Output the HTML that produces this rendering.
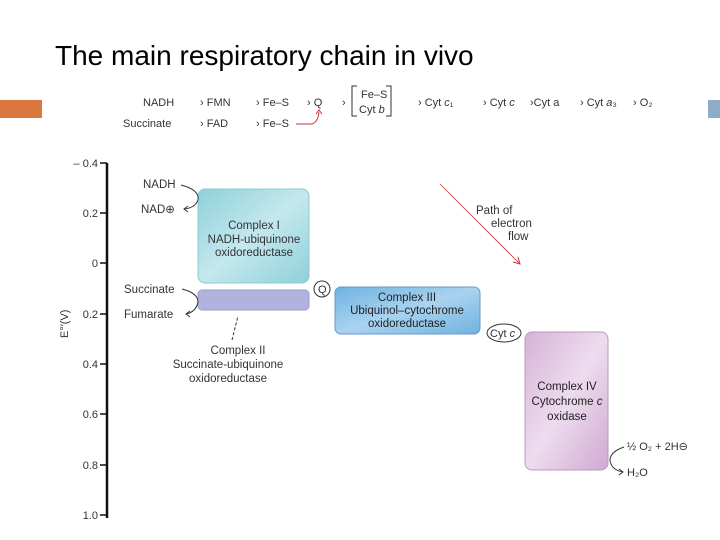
<!DOCTYPE html>
<html><head><meta charset="utf-8"><style>
body{margin:0;width:720px;height:540px;background:#fff;overflow:hidden;position:relative;font-family:"Liberation Sans",sans-serif;}
</style></head><body>
<div style="position:absolute;left:55px;top:40px;font-size:28px;color:#000;">The main respiratory chain in vivo</div>
<div style="position:absolute;left:0;top:100px;width:42px;height:18px;background:#d9773f;"></div>
<div style="position:absolute;left:708px;top:100px;width:12px;height:18px;background:#8eacc8;"></div>
<svg width="720" height="540" style="position:absolute;left:0;top:0" font-family="Liberation Sans, sans-serif" font-size="11" fill="#333">
<defs>
<linearGradient id="g1" x1="0" y1="0" x2="1" y2="1"><stop offset="0" stop-color="#8fd0da"/><stop offset="0.5" stop-color="#c4e8ee"/><stop offset="1" stop-color="#8fd0da"/></linearGradient>
<linearGradient id="g3" x1="0" y1="0" x2="1" y2="1"><stop offset="0" stop-color="#6fb2e0"/><stop offset="0.5" stop-color="#a9d3f0"/><stop offset="1" stop-color="#6fb2e0"/></linearGradient>
<linearGradient id="g4" x1="0" y1="0" x2="1" y2="1"><stop offset="0" stop-color="#d6b2d8"/><stop offset="0.5" stop-color="#eedcee"/><stop offset="1" stop-color="#d0a8d2"/></linearGradient>
</defs>
<g font-size="11">
<text x="143" y="106">NADH</text><text x="200" y="106">› FMN</text><text x="256" y="106">› Fe–S</text><text x="307" y="106">› Q</text><text x="342" y="106">›</text>
<text x="361" y="98">Fe–S</text><text x="359" y="113">Cyt <tspan font-style="italic">b</tspan></text>
<text x="418" y="106">› Cyt <tspan font-style="italic">c</tspan>₁</text><text x="483" y="106">› Cyt <tspan font-style="italic">c</tspan></text><text x="530" y="106">›Cyt a</text><text x="580" y="106">› Cyt <tspan font-style="italic">a</tspan>₃</text><text x="633" y="106">› O₂</text>
<text x="123" y="127">Succinate</text><text x="200" y="127">› FAD</text><text x="256" y="127">› Fe–S</text>
</g>
<path d="M296 124 L312 124 Q318 122 319 112" fill="none" stroke="#c33" stroke-width="1"/>
<path d="M316 114 L319 110 L322 114" fill="none" stroke="#c33"/>
<path d="M357 86 H352 V116 H357 M386 86 H391 V116 H386" fill="none" stroke="#333"/>
<line x1="107" y1="163" x2="107" y2="518" stroke="#111" stroke-width="2.5"/>
<g stroke="#111" stroke-width="1.5">
<line x1="100" y1="163" x2="107" y2="163"/><line x1="100" y1="213" x2="107" y2="213"/><line x1="100" y1="263" x2="107" y2="263"/><line x1="100" y1="314" x2="107" y2="314"/><line x1="100" y1="364" x2="107" y2="364"/><line x1="100" y1="414" x2="107" y2="414"/><line x1="100" y1="465" x2="107" y2="465"/><line x1="100" y1="515" x2="107" y2="515"/>
</g>
<g text-anchor="end" font-size="11">
<text x="98" y="167">– 0.4</text><text x="98" y="217">0.2</text><text x="98" y="267">0</text><text x="98" y="318">0.2</text><text x="98" y="368">0.4</text><text x="98" y="418">0.6</text><text x="98" y="469">0.8</text><text x="98" y="519">1.0</text>
</g>
<text x="0" y="0" transform="translate(68,338) rotate(-90)" font-size="11">E°′(V)</text>
<rect x="198" y="189" width="111" height="94" rx="7" fill="url(#g1)" stroke="#8cc" stroke-width="1"/>
<g text-anchor="middle" font-size="11.5" fill="#333">
<text x="254" y="229">Complex I</text><text x="254" y="243">NADH-ubiquinone</text><text x="254" y="256">oxidoreductase</text>
</g>
<rect x="198" y="290" width="111" height="20" rx="4" fill="#b0b4dc" stroke="#9a9ec8"/>
<circle cx="322" cy="289" r="8" fill="#fff" stroke="#333"/><text x="318" y="293" font-size="11">Q</text>
<rect x="335" y="287" width="145" height="47" rx="6" fill="url(#g3)" stroke="#69c"/>
<g text-anchor="middle" font-size="11.5" fill="#222">
<text x="407" y="301">Complex III</text><text x="407" y="314">Ubiquinol–cytochrome</text><text x="407" y="327">oxidoreductase</text>
</g>
<ellipse cx="504" cy="333" rx="17" ry="9" fill="#fff" stroke="#333"/><text x="490" y="337" font-size="11">Cyt <tspan font-style="italic">c</tspan></text>
<rect x="525" y="332" width="83" height="138" rx="7" fill="url(#g4)" stroke="#b9b"/>
<g text-anchor="middle" font-size="11.5" fill="#222">
<text x="567" y="390">Complex IV</text><text x="567" y="405">Cytochrome <tspan font-style="italic">c</tspan></text><text x="567" y="420">oxidase</text>
</g>
<text x="143" y="188" font-size="11.5">NADH</text><text x="141" y="213" font-size="11.5">NAD⊕</text>
<path d="M181 185 Q200 190 198 200 Q195 208 184 209" fill="none" stroke="#333"/>
<path d="M188 206 L184 209 L188 212" fill="none" stroke="#333"/>
<text x="124" y="293" font-size="11.5">Succinate</text><text x="124" y="318" font-size="11.5">Fumarate</text>
<path d="M182 289 Q198 293 198 302 Q196 312 186 314" fill="none" stroke="#333"/>
<path d="M190 311 L186 314 L190 317" fill="none" stroke="#333"/>
<line x1="232" y1="340" x2="238" y2="316" stroke="#333" stroke-dasharray="3,2"/>
<g text-anchor="middle" font-size="11.5"><text x="238" y="354">Complex II</text><text x="228" y="368">Succinate-ubiquinone</text><text x="228" y="382">oxidoreductase</text></g>
<line x1="440" y1="184" x2="519" y2="263" stroke="#c33" stroke-width="0.8"/>
<path d="M513 262 L520 264 L518 257" fill="none" stroke="#c33"/>
<text x="476" y="214" font-size="11.5">Path of</text><text x="491" y="227" font-size="11.5">electron</text><text x="508" y="240" font-size="11.5">flow</text>
<text x="627" y="450" font-size="11">½ O₂ + 2H⊖</text><text x="627" y="476" font-size="11">H₂O</text>
<path d="M624 447 Q610 452 610 460 Q611 470 623 472" fill="none" stroke="#333"/>
<path d="M619 469 L623 472 L619 475" fill="none" stroke="#333"/>
</svg>
</body></html>
